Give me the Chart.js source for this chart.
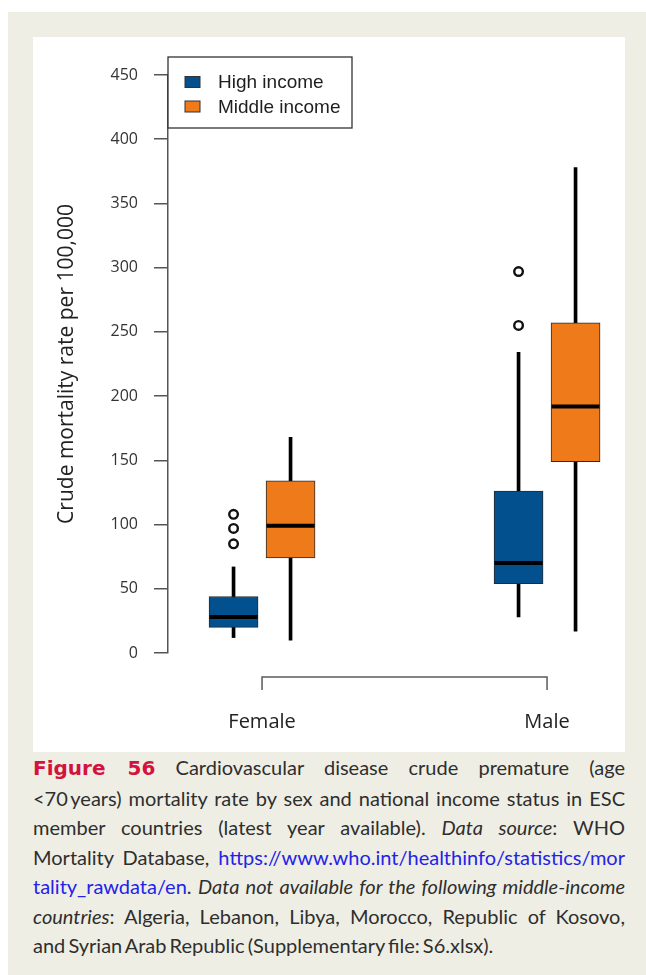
<!DOCTYPE html>
<html>
<head>
<meta charset="utf-8">
<script src="https://cdn.jsdelivr.net/npm/chart.js@4.4.1/dist/chart.umd.min.js"></script>
<style>
  html, body { margin: 0; padding: 0; background: #ffffff; }
  body { width: 646px; height: 975px; position: relative; overflow: hidden; }
  #frame { position: absolute; left: 8px; top: 12px; width: 638px; height: 963px; background: #efeee5; }
  #panel { position: absolute; left: 33px; top: 37px; width: 592px; height: 715px; background: #ffffff; }
  #chart { position: absolute; left: 0; top: 0; }
  #caption { position: absolute; left: 33px; top: 753px; width: 592px; font-family: Lato, "Open Sans", sans-serif; font-size: 20px; line-height: 29.5px; color: #2e2e2e; word-spacing: -2px; }
  #caption .ln { text-align: justify; text-align-last: justify; white-space: nowrap; }
  #caption .ln.last { text-align-last: left; }
  #caption .fig { color: #d3133f; font-weight: bold; font-family: "DejaVu Sans", sans-serif; font-size: 20px; }
  #caption .lnk { color: #2323e8; }
</style>
</head>
<body>
<div id="frame"></div>
<div id="panel"><canvas id="chart" width="592" height="715"></canvas></div>
<div id="caption">
  <div class="ln"><span class="fig">Figure 56</span> Cardiovascular disease crude premature (age</div>
  <div class="ln">&lt;70&#8201;years) mortality rate by sex and national income status in ESC</div>
  <div class="ln">member countries (latest year available). <i>Data source</i>: WHO</div>
  <div class="ln">Mortality Database, <span class="lnk">https://www.who.int/healthinfo/statistics/mor</span></div>
  <div class="ln"><span class="lnk">tality_rawdata/en</span>. <i>Data not available for the following middle-income</i></div>
  <div class="ln"><i>countries</i>: Algeria, Lebanon, Libya, Morocco, Republic of Kosovo,</div>
  <div class="ln last">and Syrian Arab Republic (Supplementary file: S6.xlsx).</div>
</div>
<script>
// ---- data ----
const categories = ['Female', 'Male'];
const seriesNames = ['High income', 'Middle income'];
const yTicks = [0, 50, 100, 150, 200, 250, 300, 350, 400, 450];

const highMin    = [12, 28];
const highQ1     = [20, 54];
const highMedian = [28, 70];
const highQ3     = [44, 126];
const highMax    = [67, 234];
const highOutliers = [[85, 97, 108], [255, 297]];

const midMin    = [10, 17];
const midQ1     = [74, 149];
const midMedian = [99, 192];
const midQ3     = [134, 257];
const midMax    = [168, 378];
const midOutliers = [[], []];

// ---- styling ----
const BLUE = '#03508f';
const ORANGE = '#ee7a1a';
const OFFSET = [-0.1, 0.1];

function boxData(q1, q3, k) { return categories.map((c, i) => ({ x: i + 1 + OFFSET[k], y: [q1[i], q3[i]] })); }
function whiskerData(mn, mx, k) { return categories.map((c, i) => ({ x: i + 1 + OFFSET[k], y: [mn[i], mx[i]] })); }
function medianData(md, k) { return categories.map((c, i) => ({ x: i + 1 + OFFSET[k], y: md[i] })); }
function outlierData(out, k) {
  const pts = [];
  out.forEach((arr, i) => arr.forEach(v => pts.push({ x: i + 1 + OFFSET[k], y: v })));
  return pts;
}

const boxStyle = { borderColor: '#2a2a2a', borderWidth: 1, borderSkipped: false, maxBarThickness: 49, barPercentage: 1, categoryPercentage: 1, grouped: false, order: 3, isLegend: true };
const whiskerStyle = { backgroundColor: '#000', borderWidth: 0, maxBarThickness: 3, barPercentage: 1, categoryPercentage: 1, grouped: false, order: 5, isLegend: false };
const medianStyle = { pointStyle: 'line', pointRadius: 24, borderColor: '#000', borderWidth: 4, order: 1, isLegend: false };
const outlierStyle = { pointStyle: 'circle', pointRadius: 4.3, borderColor: '#111', backgroundColor: '#fff', borderWidth: 2.4, order: 1, isLegend: false };

const datasets = [
  Object.assign({ type: 'bar', label: 'whisker-high', data: whiskerData(highMin, highMax, 0) }, whiskerStyle),
  Object.assign({ type: 'bar', label: 'whisker-mid', data: whiskerData(midMin, midMax, 1) }, whiskerStyle),
  Object.assign({ type: 'bar', label: seriesNames[0], data: boxData(highQ1, highQ3, 0), backgroundColor: BLUE }, boxStyle),
  Object.assign({ type: 'bar', label: seriesNames[1], data: boxData(midQ1, midQ3, 1), backgroundColor: ORANGE }, boxStyle),
  Object.assign({ type: 'scatter', label: 'median-high', data: medianData(highMedian, 0) }, medianStyle),
  Object.assign({ type: 'scatter', label: 'median-mid', data: medianData(midMedian, 1) }, medianStyle),
  Object.assign({ type: 'scatter', label: 'out-high', data: outlierData(highOutliers, 0) }, outlierStyle),
  Object.assign({ type: 'scatter', label: 'out-mid', data: outlierData(midOutliers, 1) }, outlierStyle)
];

// R-style x bracket under the plot
const bracketPlugin = {
  id: 'bracket',
  afterDraw(chart) {
    const xs = chart.scales.x, ca = chart.chartArea, ctx = chart.ctx;
    const x1 = xs.getPixelForValue(1), x2 = xs.getPixelForValue(categories.length);
    const y = ca.bottom + 24;
    ctx.save();
    ctx.strokeStyle = '#5a5a5a';
    ctx.lineWidth = 1.5;
    ctx.beginPath();
    ctx.moveTo(x1, y + 13); ctx.lineTo(x1, y); ctx.lineTo(x2, y); ctx.lineTo(x2, y + 13);
    ctx.stroke();
    ctx.restore();
  }
};

// R-style boxed legend in the top-left of the plot
const boxLegendPlugin = {
  id: 'boxLegend',
  afterDraw(chart) {
    const ca = chart.chartArea, ctx = chart.ctx;
    const items = chart.data.datasets.filter(d => d.isLegend);
    const left = ca.left, top = ca.top - 18, w = 184, h = 71;
    ctx.save();
    ctx.fillStyle = '#fff';
    ctx.fillRect(left, top, w, h);
    ctx.strokeStyle = '#333';
    ctx.lineWidth = 1.3;
    ctx.strokeRect(left, top, w, h);
    ctx.font = '19px "Liberation Sans", Arial, sans-serif';
    ctx.textBaseline = 'middle';
    items.forEach((d, i) => {
      const cy = top + 25 + i * 24.5;
      ctx.fillStyle = d.backgroundColor;
      ctx.fillRect(left + 17, cy - 5.5, 15, 11);
      ctx.strokeStyle = '#333';
      ctx.lineWidth = 1;
      ctx.strokeRect(left + 17, cy - 5.5, 15, 11);
      ctx.fillStyle = '#1e1e1e';
      ctx.fillText(d.label, left + 50, cy + 1);
    });
    ctx.restore();
  }
};

new Chart(document.getElementById('chart'), {
  type: 'bar',
  data: { datasets },
  options: {
    responsive: false,
    animation: false,
    events: [],
    layout: { autoPadding: false, padding: { top: 38, right: 1, left: 0, bottom: 0 } },
    plugins: { legend: { display: false }, tooltip: { enabled: false } },
    scales: {
      x: {
        type: 'linear',
        offset: false,
        min: 0.67,
        max: 2.27,
        afterBuildTicks: s => { s.ticks = categories.map((c, i) => ({ value: i + 1 })); },
        afterFit: s => { s.height = 99; s.paddingLeft = 0; s.paddingRight = 0; },
        grid: { display: false, drawTicks: false, offset: false },
        border: { display: false },
        ticks: {
          padding: 57,
          maxRotation: 0,
          autoSkip: false,
          color: '#222',
          font: { family: '"Open Sans"', size: 20 },
          callback: v => categories[Math.round(v) - 1]
        }
      },
      y: {
        type: 'linear',
        min: 0,
        max: 450,
        afterBuildTicks: s => { s.ticks = yTicks.map(v => ({ value: v })); },
        afterFit: s => { s.width = 135; s.paddingTop = 0; s.paddingBottom = 0; },
        grid: { drawOnChartArea: false, drawTicks: true, tickLength: 14, color: '#555', lineWidth: 1.5 },
        border: { display: true, color: '#555', width: 1.5 },
        ticks: { padding: 16, color: '#333', font: { family: '"Open Sans"', size: 16 } },
        title: {
          display: true,
          text: 'Crude mortality rate per 100,000',
          color: '#222',
          font: { family: '"Open Sans"', size: 21 },
          padding: { top: 21, bottom: 0 }
        }
      }
    }
  },
  plugins: [bracketPlugin, boxLegendPlugin]
});
</script>
</body>
</html>
